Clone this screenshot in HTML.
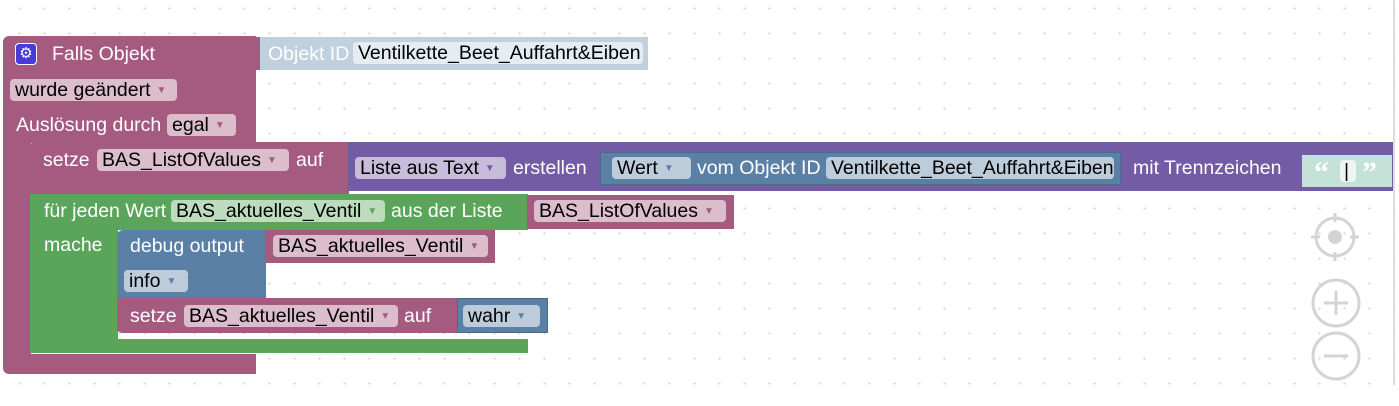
<!DOCTYPE html>
<html><head><meta charset="utf-8"><style>
body{margin:0;width:1399px;height:406px;overflow:hidden;background:#fff;font-family:"Liberation Sans",sans-serif;font-size:19.5px;color:#fff;position:relative}
.bg{position:absolute;left:0;top:0;width:1399px;height:406px;background-image:radial-gradient(circle,#d6d6d6 1px,transparent 1.3px);background-size:25px 25px;background-position:7px -4px}
.b{position:absolute;box-sizing:border-box}
.t{position:absolute;white-space:nowrap;line-height:22px}
.f{position:absolute;box-sizing:border-box;border-radius:4px;color:#000;white-space:nowrap;line-height:22px;height:22px;padding:0 5px;overflow:hidden}
.ar{font-size:10px;margin-left:6px;vertical-align:3px}
.pk{background:#A55B80}
.pkf{background:#DBBDCC}
.pkf .ar{color:#A55B80}
.bl{background:#5B80A5}
.blf{background:#BDCCDB}
.blf .ar{color:#5B80A5}
.gr{background:#5BA55B}
.grf{background:#BDDBBD}
.grf .ar{color:#5BA55B}
.pu{background:#745BA5}
.puf{background:#C7BDDB}
.puf .ar{color:#745BA5}
</style></head><body>
<div class="bg"></div>
<div style="position:absolute;left:1393px;top:0;width:2px;height:385px;background:#ddd"></div>

<!-- Falls block -->
<div class="b pk" style="left:3px;top:36px;width:253px;height:107px;border-radius:6px 0 0 0"></div>
<div class="b pk" style="left:3px;top:140px;width:28px;height:225px"></div>
<div class="b pk" style="left:3px;top:354px;width:253px;height:20px;border-radius:0 0 0 6px"></div>
<div class="b" style="left:15px;top:43px;width:22px;height:22px;background:#4a3ad8;border-radius:4px;border:1px solid #fff;color:#fff;font-size:15px;text-align:center;line-height:20px">⚙</div>
<div class="t" style="left:52px;top:43px">Falls Objekt</div>
<div class="f pkf" style="left:10px;top:79px;width:167px">wurde geändert<span class="ar">▼</span></div>
<div class="t" style="left:16px;top:114px">Auslösung durch</div>
<div class="f pkf" style="left:167px;top:114px;width:69px">egal<span class="ar">▼</span></div>

<!-- Objekt ID -->
<div class="b" style="left:256px;top:37px;width:392px;height:33px;background:#C0D0DE;border-left:4px solid #A55B80"></div>
<div class="t" style="left:268px;top:43px;color:#fff">Objekt ID</div>
<div class="f" style="left:353px;top:42px;width:290px;background:#E5ECF2">Ventilkette_Beet_Auffahrt&amp;Eiben</div>

<!-- setze ListOfValues -->
<div class="b pk" style="left:30px;top:142px;width:319px;height:52px;border-radius:5px 0 0 0"></div>
<div class="t" style="left:43px;top:149px">setze</div>
<div class="f pkf" style="left:97px;top:149px;width:192px">BAS_ListOfValues<span class="ar">▼</span></div>
<div class="t" style="left:296px;top:149px">auf</div>
<div class="b pu" style="left:348px;top:142px;width:1045px;height:49px"></div>
<div class="f puf" style="left:355px;top:157px;width:151px">Liste aus Text<span class="ar">▼</span></div>
<div class="t" style="left:513px;top:157px">erstellen</div>
<div class="b bl" style="left:600px;top:152px;width:521px;height:33px;border:1px solid #4a6a8a"></div>
<div class="f blf" style="left:612px;top:157px;width:79px">Wert<span class="ar">▼</span></div>
<div class="t" style="left:697px;top:157px">vom Objekt ID</div>
<div class="f blf" style="left:826px;top:157px;width:288px">Ventilkette_Beet_Auffahrt&amp;Eiben</div>
<div class="t" style="left:1133px;top:157px">mit Trennzeichen</div>
<div class="b" style="left:1302px;top:155px;width:90px;height:32px;background:#C5E2D8"></div>
<div class="t" style="left:1314px;top:158px;font-family:'Liberation Serif',serif;font-size:30px;font-weight:bold;line-height:30px">“</div>
<div class="f" style="left:1340px;top:160px;width:16px;background:#eef6f3;padding:0 4px">|</div>
<div class="t" style="left:1362px;top:158px;font-family:'Liberation Serif',serif;font-size:30px;font-weight:bold;line-height:30px">”</div>

<!-- loop -->
<div class="b gr" style="left:30px;top:194px;width:498px;height:36px"></div>
<div class="b gr" style="left:30px;top:228px;width:88px;height:125px"></div>
<div class="b gr" style="left:30px;top:339px;width:498px;height:14px;border-radius:0 0 0 5px"></div>
<div class="t" style="left:44px;top:200px">für jeden Wert</div>
<div class="f grf" style="left:171px;top:200px;width:214px">BAS_aktuelles_Ventil<span class="ar">▼</span></div>
<div class="t" style="left:391px;top:200px">aus der Liste</div>
<div class="b pk" style="left:527px;top:195px;width:207px;height:34px"></div>
<div class="f pkf" style="left:534px;top:200px;width:192px">BAS_ListOfValues<span class="ar">▼</span></div>
<div class="t" style="left:44px;top:234px">mache</div>

<!-- debug -->
<div class="b bl" style="left:117px;top:230px;width:149px;height:70px;border-radius:6px 0 0 0"></div>
<div class="t" style="left:130px;top:235px">debug output</div>
<div class="b pk" style="left:265px;top:230px;width:230px;height:33px"></div>
<div class="f pkf" style="left:273px;top:235px;width:215px">BAS_aktuelles_Ventil<span class="ar">▼</span></div>
<div class="f blf" style="left:124px;top:270px;width:64px">info<span class="ar">▼</span></div>

<!-- setze aktuelles -->
<div class="b pk" style="left:117px;top:298px;width:342px;height:35px;border-radius:0 0 0 5px"></div>
<div class="t" style="left:130px;top:305px">setze</div>
<div class="f pkf" style="left:184px;top:305px;width:214px">BAS_aktuelles_Ventil<span class="ar">▼</span></div>
<div class="t" style="left:404px;top:305px">auf</div>
<div class="b bl" style="left:457px;top:298px;width:91px;height:35px;border:1px solid #4a6a8a"></div>
<div class="f blf" style="left:463px;top:305px;width:77px">wahr<span class="ar">▼</span></div>

<!-- controls -->
<svg style="position:absolute;left:0;top:0" width="1399" height="406">
<g stroke="#d4d4d4" stroke-width="3" fill="none">
<circle cx="1335" cy="237" r="19"/>
<line x1="1335" y1="213" x2="1335" y2="222"/><line x1="1335" y1="252" x2="1335" y2="261"/>
<line x1="1311" y1="237" x2="1320" y2="237"/><line x1="1350" y1="237" x2="1359" y2="237"/>
<circle cx="1336" cy="303" r="23"/>
<line x1="1324" y1="303" x2="1348" y2="303"/><line x1="1336" y1="291" x2="1336" y2="315"/>
<circle cx="1336" cy="356" r="23"/>
<line x1="1324" y1="356" x2="1348" y2="356"/>
</g>
<circle cx="1335" cy="237" r="7" fill="#d4d4d4"/>
</svg>
</body></html>
